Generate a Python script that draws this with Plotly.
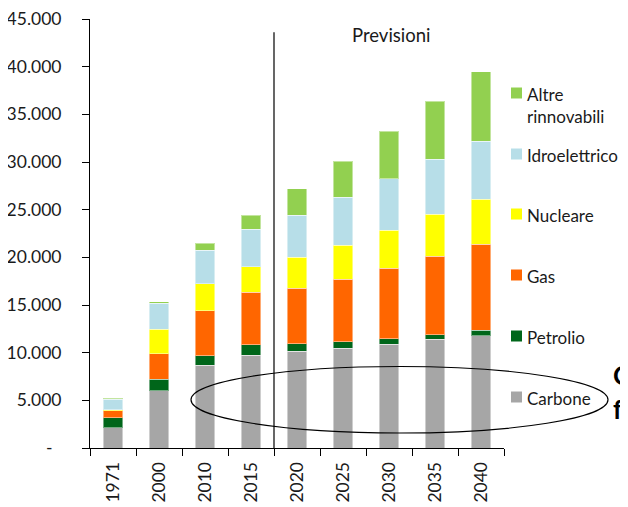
import plotly.graph_objects as go

anni = ["1971", "2000", "2010", "2015", "2020", "2025", "2030", "2035", "2040"]

carbone = [2130, 6000, 8700, 9720, 10140, 10450, 10870, 11390, 11770]
petrolio = [1050, 1230, 980, 1110, 790, 690, 590, 490, 600]
gas = [730, 2650, 4710, 5520, 5840, 6570, 7410, 8250, 9010]
nucleare = [100, 2560, 2830, 2650, 3220, 3570, 3980, 4370, 4690]
idroelettrico = [1130, 2730, 3530, 3960, 4400, 5000, 5380, 5790, 6110]
altre = [100, 170, 710, 1430, 2790, 3800, 5000, 6080, 7310]

serie = [
    ("Carbone", carbone, "#A6A6A6"),
    ("Petrolio", petrolio, "#00661A"),
    ("Gas", gas, "#FF6600"),
    ("Nucleare", nucleare, "#FFFF00"),
    ("Idroelettrico", idroelettrico, "#B7DEE8"),
    ("Altre<br>rinnovabili", altre, "#92D050"),
]

tick_vals = [0, 5000, 10000, 15000, 20000, 25000, 30000, 35000, 40000, 45000]
tick_text = ["-\u00a0\u00a0", "5.000", "10.000", "15.000", "20.000", "25.000",
             "30.000", "35.000", "40.000", "45.000"]

FONT = "Lato, 'Open Sans', sans-serif"

# page body has an 8px margin: work in window pixels, shift into figure pixels
OFF = 8
W, H = 628 - 2 * OFF, 507 - OFF
L, R, T, B = 90 - OFF, 504 - OFF, 19 - OFF, 448 - OFF


def px_x(p):
    return (p - OFF - L) / (R - L)


def px_y(p):
    return (B - (p - OFF)) / (B - T)


fig = go.Figure()
for nome, valori, colore in serie:
    fig.add_trace(go.Bar(
        x=anni, y=valori, name=nome,
        marker=dict(color=colore, line=dict(color="rgba(255,255,255,0.45)", width=1)),
        showlegend=False,
    ))

# manual legend
legenda_y = {"Altre<br>rinnovabili": 93, "Idroelettrico": 154, "Nucleare": 214,
             "Gas": 275, "Petrolio": 336, "Carbone": 397}
for nome, valori, colore in serie:
    yc = legenda_y[nome]
    fig.add_shape(type="rect", xref="paper", yref="paper",
                  x0=px_x(511), x1=px_x(522), y0=px_y(yc + 5.5), y1=px_y(yc - 5.5),
                  fillcolor=colore, line=dict(width=0))
    fig.add_annotation(text=nome, xref="paper", yref="paper", x=px_x(525),
                       y=px_y(yc - 11.5), xanchor="left", yanchor="top", showarrow=False,
                       align="left", font=dict(family=FONT, size=17, color="#1a1a1a"))

# separator of forecasts
fig.add_shape(type="line", xref="x", yref="y", x0=3.5, x1=3.5, y0=0, y1=43600,
              line=dict(color="black", width=1.2))
fig.add_annotation(text="Previsioni", xref="paper", yref="paper", x=px_x(433),
                   y=px_y(22), showarrow=False,
                   font=dict(family=FONT, size=18.5, color="#1a1a1a"))

# ellipse around coal
fig.add_shape(type="circle", xref="paper", yref="paper",
              x0=px_x(191), x1=px_x(608), y0=px_y(433), y1=px_y(366.5),
              line=dict(color="black", width=1.2))

# cut-off text at the right edge, as in the original slide
fig.add_annotation(text="<b>C</b>", xref="paper", yref="paper", x=px_x(611),
                   y=px_y(393), xanchor="left", showarrow=False,
                   font=dict(family=FONT, size=26, color="black"))
fig.add_annotation(text="<b>f</b>", xref="paper", yref="paper", x=px_x(611),
                   y=px_y(427), xanchor="left", showarrow=False,
                   font=dict(family=FONT, size=26, color="black"))

fig.update_layout(
    width=W, height=H,
    margin=dict(l=L, r=W - R, t=T, b=H - B),
    barmode="stack", bargap=0.58,
    plot_bgcolor="white", paper_bgcolor="white",
    font=dict(family=FONT, size=17.5, color="#1a1a1a"),
)
fig.update_xaxes(
    type="category", range=[-0.5, 8.5], tickangle=-90,
    showline=True, linecolor="black", linewidth=1,
    ticks="outside", ticklen=7, tickcolor="black", tickson="boundaries",
    showgrid=False, ticklabelstandoff=6, automargin=False,
    ticklabeloverflow="allow",
)
fig.update_yaxes(
    range=[0, 45000], tickvals=tick_vals, ticktext=tick_text,
    showline=True, linecolor="black", linewidth=1,
    ticks="outside", ticklen=7, tickcolor="black",
    showgrid=False, zeroline=False, ticklabelstandoff=17, automargin=False,
    ticklabeloverflow="allow",
)

fig.write_html("out.html")
